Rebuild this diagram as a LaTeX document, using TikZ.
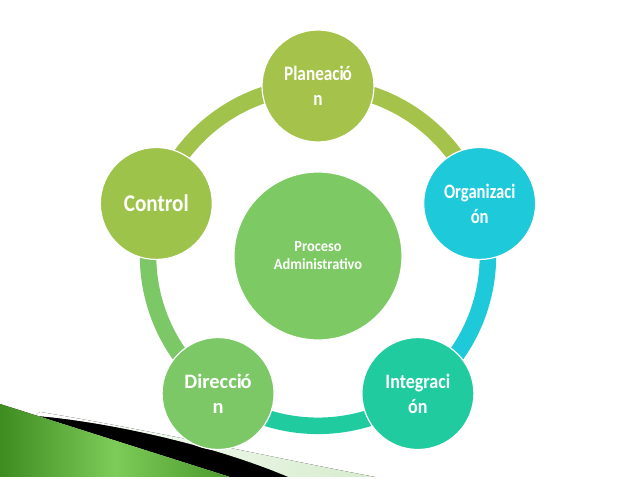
\documentclass[tikz,border=0pt]{standalone}
\usepackage{fontspec}
\setmainfont{Carlito}
\newfontfamily\narrowA{Carlito}[FakeStretch=0.88]
\newfontfamily\narrowB{Carlito}[FakeStretch=0.93]
\newfontfamily\narrowP{Carlito}[FakeStretch=0.84]
\newfontfamily\narrowO{Carlito}[FakeStretch=0.81]
\newfontfamily\narrowI{Carlito}[FakeStretch=0.88]
\definecolor{cPla}{HTML}{A5C24A}
\definecolor{cCtl}{HTML}{9EC34B}
\definecolor{cOrg}{HTML}{1EC9DA}
\definecolor{cInt}{HTML}{1FCB9F}
\definecolor{cDir}{HTML}{7CC866}
\definecolor{cCen}{HTML}{7DCA64}
\definecolor{gDark}{HTML}{3E8C20}
\definecolor{gLight}{HTML}{7DCB58}
\definecolor{gPale}{HTML}{D6ECCD}
\tikzset{
  stage/.style={circle, minimum size=112pt, inner sep=0pt, draw=white, line width=1.2pt,
    text=white, align=center, font=\fontsize{20.5}{25}\selectfont\bfseries},
  stagepla/.style={stage, font=\narrowP\fontsize{20.5}{25}\selectfont\bfseries},
  stageorg/.style={stage, font=\narrowO\fontsize{20.5}{25}\selectfont\bfseries},
  stageint/.style={stage, font=\narrowI\fontsize{20.5}{25}\selectfont\bfseries},
  stagebig/.style={stage, font=\narrowA\fontsize{24}{28}\selectfont\bfseries},
  hub/.style={circle, minimum size=168pt, inner sep=0pt, draw=white, line width=1.2pt,
    fill=cCen, text=white, align=center, font=\narrowB\fontsize{15.5}{18}\selectfont\bfseries},
  ring/.style={line width=16.5pt, bend left=36, looseness=0.94}
}
\begin{document}
\begin{tikzpicture}[x=1pt,y=1pt]
\useasboundingbox (0,0) rectangle (638,479);
% decoration bottom-left
\fill[left color=white, right color=gPale]
  (40,67) .. controls (150,49) and (260,24) .. (375,2) -- (288,2)
  .. controls (200,39) and (90,59) .. (35,63) -- cycle;
\fill[black] (35,63) .. controls (90,59) and (200,39) .. (288,2) -- (230,2) -- (0,75) -- (0,72) -- cycle;
\shade[left color=gDark, right color=gDark!80!gLight, middle color=gLight]
  (0,75) -- (230,2) -- (0,2) -- cycle;
% nodes
\coordinate (o) at (318,223);
\node[hub] (cen) at (o) {Proceso\\Administrativo};
\path (o) ++(90:170) coordinate (pPla);
\path (o) ++(18:170) coordinate (pOrg);
\path (o) ++(-54:170) coordinate (pInt);
\path (o) ++(-126:170) coordinate (pDir);
\path (o) ++(162:170) coordinate (pCtl);
% ring arcs
\draw[ring, cCtl!60!cPla] (pCtl) to (pPla);
\draw[ring, cPla] (pPla) to (pOrg);
\draw[ring, cOrg] (pOrg) to (pInt);
\draw[ring, cInt] (pInt) to (pDir);
\draw[ring, cDir] (pDir) to (pCtl);
% stage circles
\node[stagepla, fill=cPla] (pla) at (pPla) {Planeaci\kern-1.2ptó\\n};
\node[stageorg, fill=cOrg] (org) at (pOrg) {Organizaci\\ón};
\node[stageint, fill=cInt] (int) at (pInt) {Integraci\\ón};
\node[stage, fill=cDir] (dir) at (pDir) {Direcci\kern-1.2ptó\\n};
\node[stagebig, fill=cCtl] (ctl) at (pCtl) {Control};
\end{tikzpicture}
\end{document}
